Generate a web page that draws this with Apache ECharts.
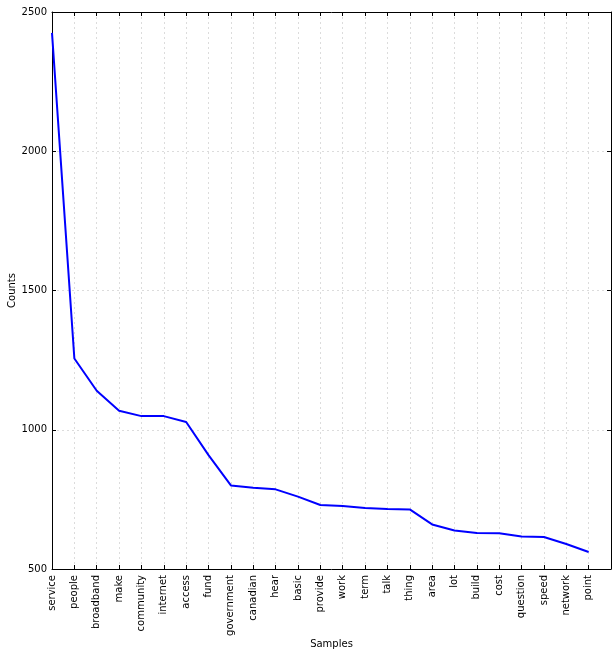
<!DOCTYPE html>
<html>
<head>
<meta charset="utf-8">
<script src="https://cdn.jsdelivr.net/npm/echarts@6/dist/echarts.min.js"></script>
<style>
html,body{margin:0;padding:0;background:#fff;}
#c{width:616px;height:657px;}
</style>
</head>
<body>
<div id="c"></div>
<script>
const categories = ["service","people","broadband","make","community","internet","access","fund","government","canadian","hear","basic","provide","work","term","talk","thing","area","lot","build","cost","question","speed","network","point"];
const counts = [2425,1256,1140,1068,1049,1049,1028,909,800,792,786,760,730,726,719,715,714,660,638,629,628,617,615,590,561];
const yTicks = {min:500, max:2500, step:500};

const axisCats = categories.concat([""]);
const font = "DejaVu Sans";
const chart = echarts.init(document.getElementById('c'), null, {renderer:'canvas'});
const gridLine = {show:true, lineStyle:{color:'#dcdcdc', type:[2,3], width:1}};
chart.setOption({
  animation:false,
  grid:{left:52, top:12, right:5, bottom:88, containLabel:false, outerBoundsMode:'none'},
  xAxis:[{
    type:'category', data:axisCats, boundaryGap:false,
    name:'Samples', nameLocation:'middle', nameGap:75, nameMoveOverlap:false,
    nameTextStyle:{fontFamily:font, fontSize:10, color:'#000', verticalAlign:'middle'},
    axisLine:{show:true, lineStyle:{color:'#000', width:1}},
    axisTick:{show:true, inside:true, length:4, interval:0, lineStyle:{color:'#000'}},
    axisLabel:{show:true, interval:0, rotate:90, fontFamily:font, fontSize:10, color:'#000', margin:6},
    splitLine:Object.assign({interval:0}, gridLine)
  },{
    type:'category', data:axisCats, boundaryGap:false, position:'top',
    axisLine:{show:true, lineStyle:{color:'#000', width:1}},
    axisTick:{show:true, inside:true, length:4, interval:0, lineStyle:{color:'#000'}},
    axisLabel:{show:false}, splitLine:{show:false}
  }],
  yAxis:[{
    type:'value', min:yTicks.min, max:yTicks.max, interval:yTicks.step,
    name:'Counts', nameLocation:'middle', nameGap:40, nameRotate:90, nameMoveOverlap:false,
    nameTextStyle:{fontFamily:font, fontSize:10, color:'#000', verticalAlign:'middle'},
    axisLine:{show:true, lineStyle:{color:'#000', width:1}},
    axisTick:{show:true, inside:true, length:4, lineStyle:{color:'#000'}},
    axisLabel:{fontFamily:font, fontSize:10, color:'#000', margin:5, formatter:function(v){return String(v);}},
    splitLine:gridLine
  },{
    type:'value', min:yTicks.min, max:yTicks.max, interval:yTicks.step, position:'right',
    axisLine:{show:true, lineStyle:{color:'#000', width:1}},
    axisTick:{show:true, inside:true, length:4, lineStyle:{color:'#000'}},
    axisLabel:{show:false}, splitLine:{show:false}
  }],
  series:[{
    type:'line', data:counts, xAxisIndex:0, yAxisIndex:0,
    showSymbol:false, symbol:'none',
    lineStyle:{color:'#0000ff', width:2},
    itemStyle:{color:'#0000ff'}
  }]
});
</script>
</body>
</html>
